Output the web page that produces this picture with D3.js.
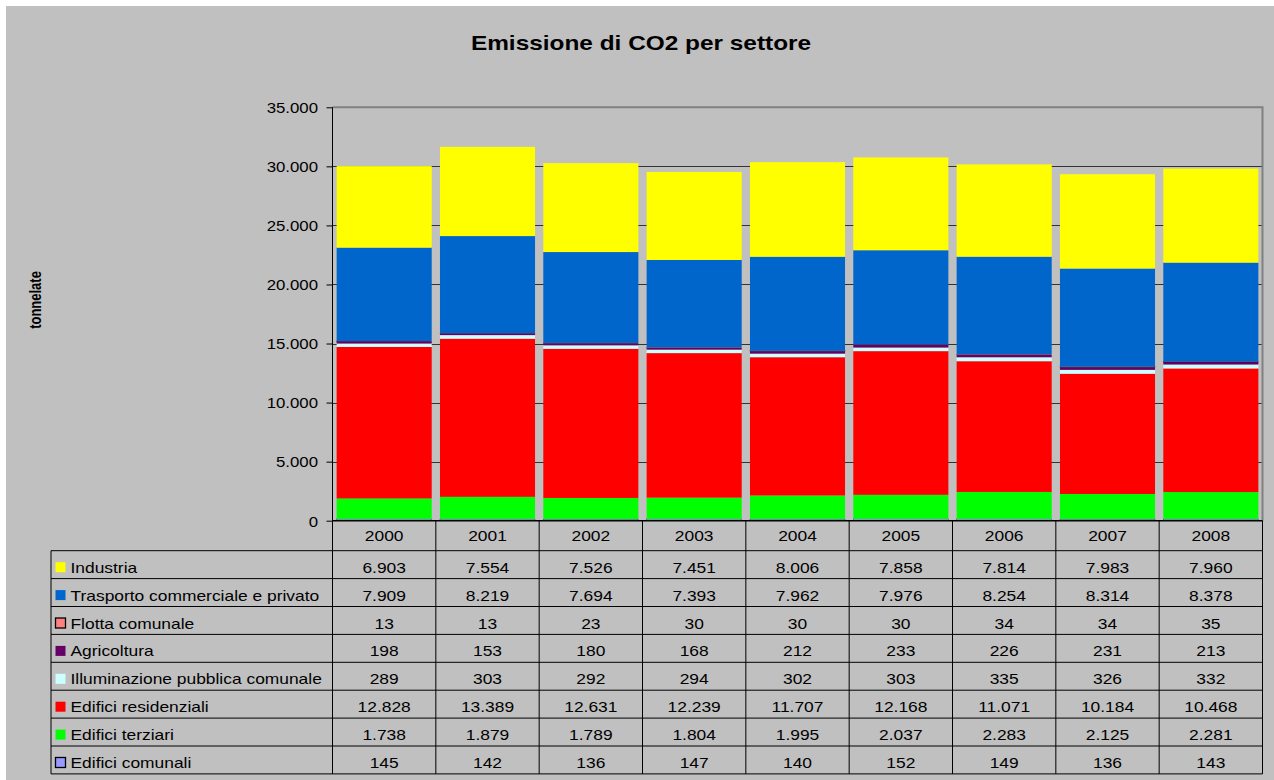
<!DOCTYPE html>
<html><head><meta charset="utf-8">
<script src="https://cdn.jsdelivr.net/npm/d3@7"></script>
<style>html,body{margin:0;padding:0;background:#fff;}svg{display:block;font-family:"Liberation Sans",Arial,sans-serif;}</style>
</head><body><svg id="c" width="1274" height="780"></svg>
<script>
const years = ["2000","2001","2002","2003","2004","2005","2006","2007","2008"];
// series listed in table order (top to bottom); stacked bottom-up in reverse order
const seriesNames = ["Industria","Trasporto commerciale e privato","Flotta comunale","Agricoltura","Illuminazione pubblica comunale","Edifici residenziali","Edifici terziari","Edifici comunali"];
const industria     = [6903,7554,7526,7451,8006,7858,7814,7983,7960];
const trasporto     = [7909,8219,7694,7393,7962,7976,8254,8314,8378];
const flotta        = [13,13,23,30,30,30,34,34,35];
const agricoltura   = [198,153,180,168,212,233,226,231,213];
const illuminazione = [289,303,292,294,302,303,335,326,332];
const residenziali  = [12828,13389,12631,12239,11707,12168,11071,10184,10468];
const terziari      = [1738,1879,1789,1804,1995,2037,2283,2125,2281];
const comunali      = [145,142,136,147,140,152,149,136,143];
const seriesColors  = ["#FFFF00","#0066CC","#FF8080","#660066","#CCFFFF","#FF0000","#00FF00","#9999FF"];
const seriesBorder  = [false,false,true,false,false,false,false,true];
const yTicks = [0,5000,10000,15000,20000,25000,30000,35000];

const seriesValues = [industria,trasporto,flotta,agricoltura,illuminazione,residenziali,terziari,comunali];
const keys = seriesNames.slice().reverse();
const rows = years.map((y,i)=>{const o={year:y}; seriesNames.forEach((n,k)=>o[n]=seriesValues[k][i]); return o;});
const colorOf = d3.scaleOrdinal(seriesNames, seriesColors);

const loc = d3.formatLocale({decimal:",",thousands:".",grouping:[3],currency:["€",""]});
const fmt = loc.format(",d");
const SX = 1.16;

const svg = d3.select("#c");
svg.append("rect").attr("x",6).attr("y",6).attr("width",1268).attr("height",774).attr("fill","#C0C0C0");

function stext(parent, x, y, str, size, anchor, sx, bold){
  return parent.append("text").attr("transform",`translate(${x},${y}) scale(${sx||SX},1)`)
    .attr("text-anchor",anchor||"start").attr("font-size",size).attr("fill","#000")
    .attr("font-weight",bold?"bold":null).text(str);
}

const L=332.5, R=1262.5, T=107.3, B=520.7;
const x = d3.scaleBand().domain(years).range([L,R]).paddingInner(0.08).paddingOuter(0.04);
const slot = d3.scaleBand().domain(years).range([L,R]).padding(0);
const y = d3.scaleLinear().domain([0,35000]).range([B,T]);

svg.append("g").selectAll("line").data(yTicks.filter(t=>t>0 && t<35000)).join("line")
  .attr("x1",L).attr("x2",R).attr("y1",d=>Math.round(y(d))+0.5).attr("y2",d=>Math.round(y(d))+0.5)
  .attr("stroke","#333").attr("stroke-width",1);
svg.append("path").attr("d",`M${L},${T}H${R}V${B}`).attr("fill","none").attr("stroke","#808080").attr("stroke-width",2);

const stack = d3.stack().keys(keys)(rows);
svg.append("g").selectAll("g").data(stack).join("g")
  .attr("fill",d=>colorOf(d.key))
  .selectAll("rect").data(d=>d.map(v=>Object.assign(v,{key:d.key}))).join("rect")
  .attr("x",d=>x(d.data.year)).attr("width",x.bandwidth())
  .attr("y",d=>y(d[1])).attr("height",d=>y(d[0])-y(d[1]))
  .attr("stroke",d=>seriesBorder[seriesNames.indexOf(d.key)]?"#000":"none")
  .attr("stroke-width",0.3);

const yAxis = d3.axisLeft(y).tickValues(yTicks).tickFormat(d=>fmt(d)).tickSize(6);
const ga = svg.append("g").attr("transform",`translate(${L},0)`).call(yAxis);
ga.select(".domain").remove();
ga.selectAll(".tick line").attr("stroke","#000");
ga.selectAll(".tick text").attr("font-size",15).attr("fill","#000")
  .attr("font-family","Liberation Sans, Arial, sans-serif")
  .attr("x",0).attr("dy",null)
  .attr("transform",`translate(-14.5,5.3) scale(1.12,1)`);
svg.append("line").attr("x1",L).attr("x2",L).attr("y1",T).attr("y2",774).attr("stroke","#000");
svg.append("line").attr("x1",L).attr("x2",R).attr("y1",B).attr("y2",B).attr("stroke","#000").attr("stroke-width",1.5);

const tL=51, rowTop=550.7, rowH=27.9, nRows=seriesNames.length;
const tB=rowTop+rowH*nRows;
const tbl = svg.append("g");
tbl.selectAll("line.hv").data(years).join("line").attr("class","hv")
  .attr("x1",d=>slot(d)+slot.bandwidth()).attr("x2",d=>slot(d)+slot.bandwidth())
  .attr("y1",B).attr("y2",tB).attr("stroke","#000").attr("stroke-width",1);
tbl.selectAll("line.hr").data(d3.range(nRows+1)).join("line").attr("class","hr")
  .attr("x1",tL).attr("x2",R).attr("y1",i=>rowTop+i*rowH).attr("y2",i=>rowTop+i*rowH)
  .attr("stroke","#000").attr("stroke-width",1);
tbl.append("line").attr("x1",tL).attr("x2",tL).attr("y1",rowTop).attr("y2",tB).attr("stroke","#000");
years.forEach(yr=>stext(tbl, slot(yr)+slot.bandwidth()/2, 541, yr, 15, "middle"));
seriesNames.forEach((n,k)=>{
  const cy = rowTop+k*rowH;
  tbl.append("rect").attr("x",55.5).attr("y",cy+11.5).attr("width",10).attr("height",10)
    .attr("fill",seriesColors[k]).attr("stroke",seriesBorder[k]?"#000":"none").attr("stroke-width",1.3);
  stext(tbl, 70.5, cy+22, n, 15, "start");
  seriesValues[k].forEach((v,i)=>stext(tbl, slot(years[i])+slot.bandwidth()/2, cy+22, fmt(v), 15, "middle"));
});

stext(svg, 641, 50, "Emissione di CO2 per settore", 20, "middle", 1.22, true);
svg.append("text").attr("transform",`translate(41,300) scale(1.25,1) rotate(-90)`).attr("text-anchor","middle")
  .attr("font-size",13).attr("font-weight","bold").text("tonnelate");
</script></body></html>
